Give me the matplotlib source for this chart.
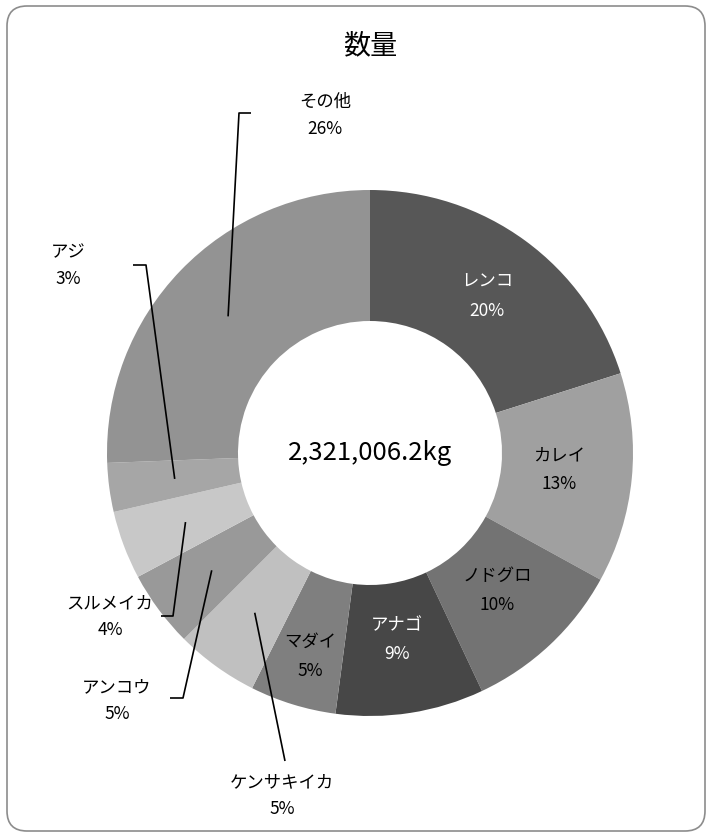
import matplotlib.pyplot as plt
from matplotlib.patches import FancyBboxPatch
import numpy as np

plt.rcParams['font.family'] = ['Noto Sans CJK JP', 'DejaVu Sans']

# data
title = '数量'
center_label = '2,321,006.2kg'
species = ['レンコ', 'カレイ', 'ノドグロ', 'アナゴ', 'マダイ',
           'ケンサキイカ', 'アンコウ', 'スルメイカ', 'アジ', 'その他']
weights_kg = [466500, 299400, 232100, 211200, 123000,
              118400, 109100, 97500, 69600, 594206.2]
slice_colors = ['#575757', '#a0a0a0', '#737373', '#474747', '#7f7f7f',
                '#c0c0c0', '#999999', '#c8c8c8', '#a6a6a6', '#939393']

W, H = 706, 832
total = sum(weights_kg)

fig = plt.figure(figsize=(W / 100, H / 100), dpi=100)
ax = fig.add_axes([0, 0, 1, 1])

# pixel-like coords, y measured from top
def Y(y):
    return H - y

cx, cy = 370, Y(453)
R, r_in = 263, 132

wedges, _ = ax.pie(weights_kg, colors=slice_colors, startangle=90, counterclock=False,
                   radius=R, center=(cx, cy),
                   wedgeprops=dict(width=R - r_in, linewidth=0))
ax.set_xlim(0, W)
ax.set_ylim(0, H)
ax.set_aspect('equal')
ax.axis('off')

fs = 12.5

def mid_point(w, r):
    a = np.deg2rad((w.theta1 + w.theta2) / 2)
    return cx + r * np.cos(a), cy + r * np.sin(a)

# labels inside ring (name centre, layout px)
in_text_pos = {0: (487, 282), 1: (559, 455), 2: (497, 576), 3: (397, 625), 4: (310, 642)}
in_text_col = {0: 'white', 1: 'black', 2: 'black', 3: 'white', 4: 'black'}
for i, (tx, ty) in in_text_pos.items():
    pct = round(100 * weights_kg[i] / total)
    ax.text(tx, Y(ty), species[i], ha='center', va='center', fontsize=fs, color=in_text_col[i])
    ax.text(tx, Y(ty + 29), f'{pct}%', ha='center', va='center', fontsize=fs,
            color=in_text_col[i])

# labels outside with leader lines
out_text_pos = {5: (282, 782), 6: (117, 687), 7: (110, 603), 8: (68, 252), 9: (325, 102)}
out_leader = {5: [(285, 761)],
              6: [(183, 698), (170, 698)],
              7: [(173, 616), (161, 616)],
              8: [(146, 265), (133, 265)],
              9: [(239, 113), (251, 113)]}
for i, (tx, ty) in out_text_pos.items():
    pct = round(100 * weights_kg[i] / total)
    ax.text(tx, Y(ty), species[i], ha='center', va='center', fontsize=fs, color='black')
    ax.text(tx, Y(ty + 27), f'{pct}%', ha='center', va='center', fontsize=fs, color='black')
    x0, y0 = mid_point(wedges[i], 197)
    xs = [x0] + [p[0] for p in out_leader[i]]
    ys = [y0] + [Y(p[1]) for p in out_leader[i]]
    ax.plot(xs, ys, color='black', lw=1.2, solid_capstyle='butt')

ax.text(cx, cy, center_label, ha='center', va='center', fontsize=18.5, color='black')
ax.text(cx, Y(46), title, ha='center', va='center', fontsize=19.5, color='black')

frame = FancyBboxPatch((7, Y(831)), 698, 825, boxstyle='round,pad=0,rounding_size=20',
                       transform=ax.transData, fill=False, edgecolor='#8c8c8c', lw=1.2,
                       clip_on=False)
ax.add_patch(frame)

fig.savefig('out.png', dpi=100)
